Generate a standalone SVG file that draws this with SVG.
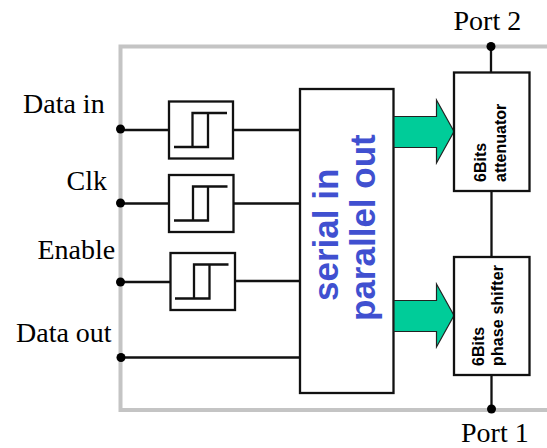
<svg xmlns="http://www.w3.org/2000/svg" width="547" height="448" viewBox="0 0 547 448">
<style>
.l{font-family:"Liberation Serif",serif;font-size:28px;fill:#000}
.b{fill:#fff;stroke:#111;stroke-width:2.300}
.w{fill:none;stroke:#111;stroke-width:2.300}
.s{fill:none;stroke:#111;stroke-width:2.300}
.a{fill:#00cc99;stroke:#222;stroke-width:1.200}
.v{font-family:"Liberation Sans",sans-serif;font-weight:bold;font-size:16px;fill:#000}
.p{font-family:"Liberation Sans",sans-serif;font-weight:bold;font-size:35px;fill:#4050d0}
.d{fill:#000}
</style>
<rect width="547" height="448" fill="#fff"/>
<path d="M547 46.500H120.500V410H547" fill="none" stroke="#c4c4c4" stroke-width="4"/>
<g id="connectors">
<path class="w" d="M120 130H169M233 130H300"/>
<path class="w" d="M120 203.500H169M234 203.500H300"/>
<path class="w" d="M120 282H170M235 281H300"/>
<path class="w" d="M121 357.500H300"/>
<path class="w" d="M491 47V73M491.500 191V257M491.500 375V409"/>
<circle class="d" cx="120.500" cy="129" r="4.500"/>
<circle class="d" cx="120.500" cy="203" r="4.500"/>
<circle class="d" cx="120.500" cy="282" r="4.500"/>
<circle class="d" cx="121" cy="357.500" r="4.500"/>
<circle class="d" cx="491" cy="46.500" r="4.500"/>
<circle class="d" cx="491.500" cy="409" r="4.500"/>
</g>
<g id="trigger1"><rect class="b" x="169" y="101.500" width="64" height="57"/><path class="s" d="M174 147H208V113M192.500 147V113H227"/></g>
<g id="trigger2"><rect class="b" x="169" y="175" width="64.500" height="57"/><path class="s" d="M174 220.500H208V186.500M193 220.500V186.500H227.500"/></g>
<g id="trigger3"><rect class="b" x="170.500" y="253" width="64.500" height="57"/><path class="s" d="M175 298.500H209.500V264.500M194 298.500V264.500H228.500"/></g>
<g id="register"><rect class="b" x="300" y="89" width="93.500" height="304"/>
<text class="p" transform="translate(337.500 301) rotate(-90)">serial in</text>
<text class="p" transform="translate(375 321) rotate(-90)">parallel out</text></g>
<g id="arrow1"><path class="a" d="M394 116.500H436.500V100L454 131.500L436.500 163V147.500H394Z"/></g>
<g id="arrow2"><path class="a" d="M394 300.500H436.500V284L454 315.500L436.500 347V331.500H394Z"/></g>
<g id="attenuator"><rect class="b" x="454" y="72.500" width="75.500" height="118.500"/>
<text class="v" transform="translate(486 182) rotate(-90)">6Bits</text>
<text class="v" transform="translate(506 182) rotate(-90)">attenuator</text></g>
<g id="phaseshifter"><rect class="b" x="454" y="257" width="75.500" height="118"/>
<text class="v" transform="translate(483.500 366) rotate(-90)">6Bits</text>
<text class="v" transform="translate(503 366) rotate(-90)" textLength="101">phase shifter</text></g>
<text class="l" x="23" y="113">Data in</text>
<text class="l" x="66.500" y="190">Clk</text>
<text class="l" x="37.500" y="259">Enable</text>
<text class="l" x="16" y="342">Data out</text>
<text class="l" x="453.500" y="30">Port 2</text>
<text class="l" x="461" y="441.500">Port 1</text>
</svg>
